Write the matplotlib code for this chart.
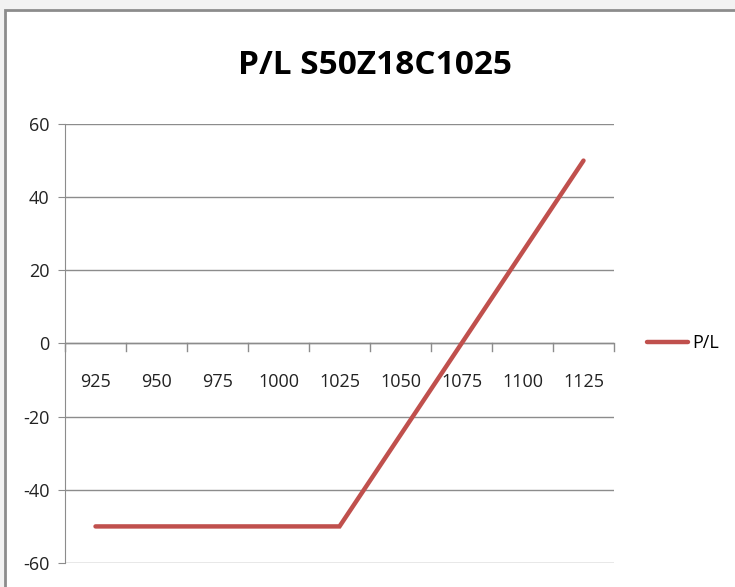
import matplotlib.pyplot as plt
from matplotlib.patches import Rectangle
from matplotlib import font_manager

strikes = [925, 950, 975, 1000, 1025, 1050, 1075, 1100, 1125]
pl = [-50, -50, -50, -50, -50, -25, 0, 25, 50]
title = 'P/L S50Z18C1025'
series_name = 'P/L'

names = {f.name for f in font_manager.fontManager.ttflist}
prefs = ['Liberation Sans Narrow', 'DejaVu Sans Condensed', 'Open Sans', 'Lato', 'Roboto']
chosen = next((p for p in prefs if p in names), 'DejaVu Sans')
plt.rcParams['font.family'] = [chosen, 'DejaVu Sans']
plt.rcParams['axes.unicode_minus'] = False

W, H = 735, 587
fig = plt.figure(figsize=(W / 100, H / 100), dpi=100)
fig.patch.set_facecolor('#f2f2f2')

# white chart area with gray border (runs off the right and bottom)
fig.patches.append(Rectangle((5 / W, -0.05), 1.1, 1 - 10 / H + 0.05,
                             transform=fig.transFigure, facecolor='white',
                             edgecolor='#8c8c8c', linewidth=2, zorder=-5))

ax = fig.add_axes([65 / W, 1 - 563 / H, (614 - 65) / W, (563 - 124) / H])
ax.set_facecolor('none')
ax.set_zorder(2)

x = list(range(len(strikes)))
line, = ax.plot(x, pl, color='#c0504d', linewidth=3.2, solid_capstyle='round',
                solid_joinstyle='miter', zorder=3)

ax.set_xlim(-0.5, len(strikes) - 0.5)
ax.set_ylim(-60, 60)
ax.set_yticks(range(-60, 61, 20))
ax.yaxis.grid(True, color='#8c8c8c', linewidth=1)
ax.set_axisbelow(True)

for s in ['top', 'right', 'bottom']:
    ax.spines[s].set_visible(False)
ax.spines['left'].set_color('#8c8c8c')

# category axis at y = 0 with boundary ticks
ax.axhline(0, color='#8c8c8c', linewidth=1, zorder=2)
for b in range(len(strikes) + 1):
    ax.plot([b - 0.5, b - 0.5], [0, -2], color='#8c8c8c', linewidth=1,
            clip_on=False, zorder=2)
for xi, s in zip(x, strikes):
    ax.text(xi, -10.5, str(s), ha='center', va='center', fontsize=13, color='#222222')
ax.set_xticks([])

ax.tick_params(axis='y', length=5, color='#8c8c8c', labelsize=13,
               labelcolor='#222222', pad=6)

fig.text(375 / W, 1 - 65 / H, title, ha='center', va='center',
         fontsize=24, fontweight='bold')

ax.legend([line], [series_name], loc='center left', bbox_to_anchor=(1.03, 0.5),
          frameon=False, fontsize=13, handlelength=2.3, handletextpad=0.2)

fig.savefig('out.png', dpi=100, facecolor=fig.get_facecolor())
